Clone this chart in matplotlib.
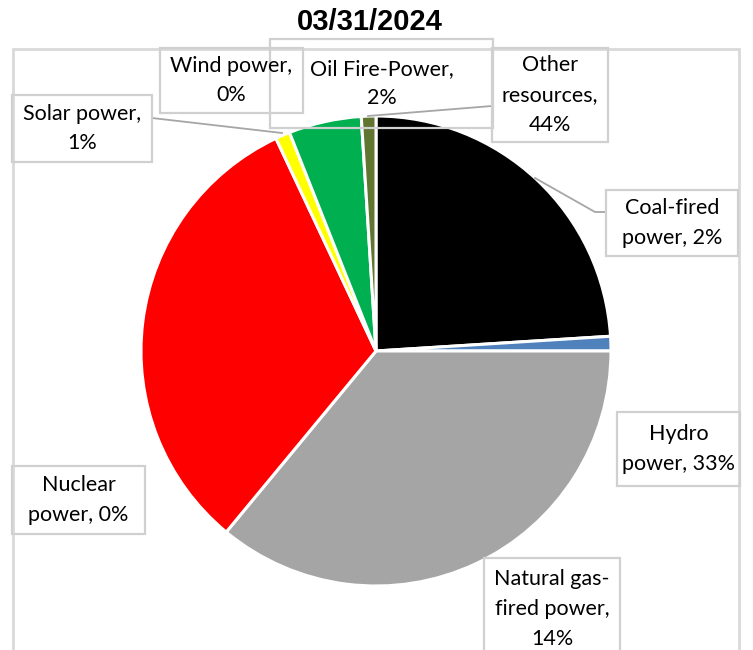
import matplotlib.pyplot as plt
from matplotlib.patches import Rectangle

# slices, clockwise from 12 o'clock
slice_names = ["Coal", "Hydro", "Gas", "Nuclear", "Solar", "Wind", "Oil"]
slice_values = [24, 1, 36, 32, 1, 5, 1]
slice_colors = ["#000000", "#4f81bd", "#a5a5a5", "#ff0000", "#ffff00", "#00b050", "#5f7530"]

# data label texts (as shown on the chart)
label_texts = [
    "Wind power,\n0%",
    "Oil Fire-Power,\n2%",
    "Other\nresources,\n44%",
    "Solar power,\n1%",
    "Coal-fired\npower, 2%",
    "Hydro\npower, 33%",
    "Nuclear\npower, 0%",
    "Natural gas-\nfired power,\n14%",
]
# label boxes in pixel coords: x0, y0(top), x1, y1(bottom)
label_boxes = [
    (160, 48, 303, 113),
    (270, 39, 493, 128),
    (492, 48, 608, 142),
    (12, 95, 152, 162),
    (606, 190, 738, 256),
    (617, 412, 740, 486),
    (12, 466, 145, 534),
    (484, 558, 620, 660),
]

W, H = 753, 650

fig = plt.figure(figsize=(W / 100, H / 100), dpi=100)
ax = fig.add_axes([0, 0, 1, 1])

def py(y):
    return H - y

# outer frame
ax.add_patch(Rectangle((13, py(700)), 739 - 13, 700 - 49, fill=False,
                       edgecolor="#d9d9d9", lw=2, zorder=0))

ax.pie(slice_values, colors=slice_colors, startangle=90, counterclock=False,
       center=(376, py(351)), radius=235,
       wedgeprops=dict(edgecolor="white", linewidth=2.2))

# leader lines
ax.plot([152, 282], [py(118), py(133)], color="#a6a6a6", lw=1.3, zorder=3)
ax.plot([368, 492], [py(116), py(106)], color="#a6a6a6", lw=1.3, zorder=3)
ax.plot([606, 595, 535], [py(212), py(212), py(178)], color="#a6a6a6", lw=1.3, zorder=3)

for txt, (x0, y0, x1, y1) in zip(label_texts, label_boxes):
    ax.add_patch(Rectangle((x0, py(y1)), x1 - x0, y1 - y0, facecolor="none",
                           edgecolor="#d0d0d0", lw=1.6, zorder=4))
    ax.text((x0 + x1) / 2, py((y0 + y1) / 2), txt, ha="center", va="center",
            fontsize=15.5, family=["Lato", "DejaVu Sans"], linespacing=1.6,
            color="#000000", zorder=5)

ax.text(370, py(22), "03/31/2024", ha="center", va="center", fontsize=21,
        fontweight="bold", family=["Liberation Sans", "DejaVu Sans"])

ax.set_xlim(0, W)
ax.set_ylim(0, H)
ax.set_aspect("equal")
ax.axis("off")

fig.savefig("out.png", dpi=100)
